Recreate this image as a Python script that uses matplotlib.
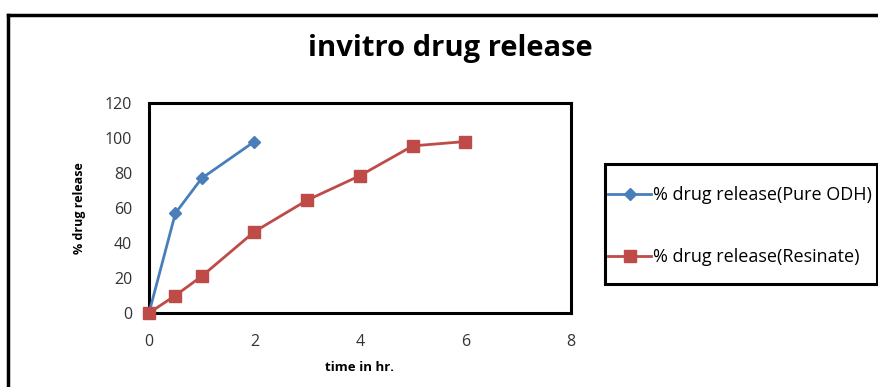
import matplotlib
matplotlib.use("Agg")
import matplotlib.pyplot as plt
from matplotlib.lines import Line2D
from matplotlib.patches import Rectangle

## data ##
time_pure = [0, 0.5, 1, 2]
release_pure = [0, 57, 77, 98]

time_resinate = [0, 0.5, 1, 2, 3, 4, 5, 6]
release_resinate = [0, 10, 21, 46.5, 64.5, 78.5, 95.5, 98]

x_ticks = [0, 2, 4, 6, 8]
y_ticks = [0, 20, 40, 60, 80, 100, 120]

plt.rcParams['font.family'] = ['Open Sans', 'DejaVu Sans']

fig = plt.figure(figsize=(8.79, 3.87), dpi=100)
ax = fig.add_axes([0.1695, 0.1912, 0.4801, 0.5426])

ax.plot(time_pure, release_pure, color="#4A7EBB", lw=2, marker="D", ms=6,
        label="% drug release(Pure ODH)", clip_on=False, zorder=3)
ax.plot(time_resinate, release_resinate, color="#BE4B48", lw=2, marker="s", ms=9,
        label="% drug release(Resinate)", clip_on=False, zorder=3)

ax.set_xlim(0, 8)
ax.set_ylim(0, 120)
ax.set_xticks(x_ticks)
ax.set_yticks(y_ticks)
ax.tick_params(length=0, labelsize=11.5, colors="#333333")
ax.tick_params(axis='x', pad=15)
ax.tick_params(axis='y', pad=12)
for s in ax.spines.values():
    s.set_linewidth(2.2)
    s.set_color("black")

ax.set_xlabel("time in hr.", fontsize=9.5, fontweight="bold", labelpad=8)
ax.set_ylabel("% drug release", fontsize=9, fontweight="bold", labelpad=14)

fig.text(0.512, 0.875, "invitro drug release", ha="center", va="center",
         fontsize=21, fontweight="bold")

# outer chart frame
fig.add_artist(Line2D([8/879, 8/879], [0, 1 - 15/387], color="black", lw=2.5,
                      transform=fig.transFigure))
fig.add_artist(Line2D([8/879, 1], [1 - 15/387, 1 - 15/387], color="black", lw=2.5,
                      transform=fig.transFigure))

# legend, with its box drawn separately
fig.add_artist(Rectangle((605/879, 1 - 284/387), 272/879, 120/387, fill=False,
                         edgecolor="black", lw=2.2, transform=fig.transFigure))
leg = fig.legend(loc="center left", bbox_to_anchor=(608/879, 1 - 226/387),
                 frameon=False, fontsize=13, labelspacing=2.45,
                 handlelength=2.4, handletextpad=0.1, borderpad=0,
                 borderaxespad=0)

plt.savefig("out.png", dpi=100)
